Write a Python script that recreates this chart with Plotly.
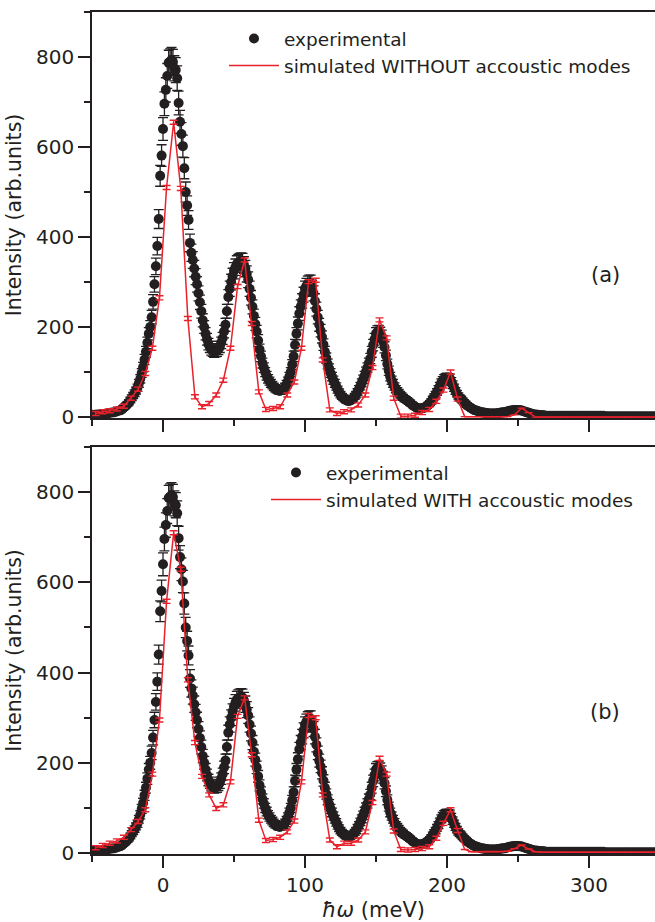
import plotly.graph_objects as go

# ---------------- data ----------------
# experimental energy grid (meV): 2 meV steps in the wings, 1 meV steps elsewhere
exp_energy = list(range(-50, -30, 2)) + list(range(-30, 271)) + list(range(272, 351, 2))
exp_intensity = [
    5, 5, 6, 6, 7, 8, 9, 10, 11, 13,
    15, 17, 20, 23, 26, 29, 33, 38, 43, 48,
    53, 59, 65, 75, 85, 98, 111, 128, 145, 165,
    185, 200, 222, 256, 295, 335, 380, 440, 536, 581,
    640, 696, 727, 758, 787, 790, 793, 789, 775, 771,
    753, 698, 656, 629, 602, 553, 500, 470, 438, 387,
    365, 349, 330, 312, 295, 275, 255, 235, 215, 200,
    185, 173, 162, 156, 150, 147, 145, 146, 147, 151,
    156, 165, 175, 190, 205, 235, 267, 285, 300, 313,
    325, 333, 340, 343, 345, 346, 345, 338, 330, 318,
    305, 285, 265, 245, 225, 207, 190, 170, 150, 135,
    120, 110, 100, 92, 85, 80, 75, 71, 67, 64,
    62, 60, 58, 59, 60, 63, 67, 73, 80, 90,
    100, 117, 135, 160, 185, 208, 230, 245, 258, 272,
    285, 291, 296, 298, 298, 287, 275, 258, 240, 222,
    205, 192, 178, 161, 145, 131, 118, 108, 98, 90,
    82, 75, 68, 61, 55, 50, 46, 43, 40, 38,
    36, 36, 37, 39, 42, 46, 50, 56, 62, 69,
    76, 84, 92, 101, 110, 120, 130, 145, 160, 173,
    185, 189, 190, 186, 180, 168, 155, 137, 118, 103,
    90, 82, 75, 68, 62, 58, 54, 50, 47, 44,
    41, 39, 37, 34, 32, 29, 26, 24, 22, 20,
    19, 19, 19, 20, 21, 23, 25, 28, 31, 35,
    40, 45, 50, 56, 62, 69, 76, 81, 85, 87,
    88, 87, 86, 79, 72, 65, 58, 52, 47, 43,
    40, 36, 33, 30, 27, 24, 22, 20, 18, 16,
    15, 14, 13, 12, 11, 10, 10, 9, 9, 8,
    8, 8, 8, 8, 8, 8, 9, 9, 10, 10,
    11, 11, 12, 13, 14, 14, 15, 15, 16, 16,
    16, 15, 15, 14, 13, 12, 11, 10, 9, 8,
    7, 6, 6, 5, 5, 4, 4, 4, 4, 3,
    3,
    3, 3, 3, 3, 3, 3, 3, 3, 3, 3,
    3, 3, 3, 3, 3, 3, 3, 3, 3, 3,
    2, 2, 2, 2, 2, 2, 2, 2, 2, 2,
    2, 2, 2, 2, 2, 2, 2, 2, 2, 2,
]
assert len(exp_energy) == len(exp_intensity)

# simulated energy grid (meV)
sim_energy = [e + 0.5 for e in range(-48, 348, 5)]
sim_without = [
    8, 12, 14, 18, 24, 42, 62, 97, 153, 265,
    510, 655, 508, 219, 45, 23, 30, 49, 82, 153,
    290, 349, 208, 56, 17, 19, 23, 49, 78, 153,
    301, 304, 127, 16, 8, 12, 16, 27, 49, 110,
    216, 176, 42, 2, 2, 4, 10, 17, 35, 60,
    100, 40, 1, 1, 1, 1, 1, 1, 1, 5,
    20, 10, 0, 0, 0, 0, 0, 0, 0, 0,
    0, 0, 0, 0, 0, 0, 0, 0, 0, 0,
]
sim_with = [
    12, 17, 22, 27, 35, 52, 70, 96, 175, 295,
    558, 710, 629, 384, 245, 170, 129, 99, 107, 158,
    303, 344, 218, 73, 28, 30, 35, 47, 71, 158,
    305, 300, 129, 29, 14, 22, 22, 29, 47, 112,
    210, 175, 49, 8, 7, 8, 10, 14, 33, 66,
    96, 50, 8, 3, 3, 3, 3, 3, 4, 10,
    18, 9, 3, 2, 2, 2, 2, 2, 2, 2,
    2, 2, 2, 2, 2, 2, 2, 2, 2, 2,
]
sim_err = [
    4.5, 4.5, 4.5, 4.5, 4.5, 4.5, 4.5, 4.5, 4.5, 4.5,
    4.5, 4.5, 4.5, 4.5, 4.5, 4.5, 4.5, 4.5, 4.5, 4.5,
    4.5, 4.5, 4.5, 4.5, 4.5, 4.5, 4.5, 4.5, 4.5, 4.5,
    4.5, 4.5, 4.5, 4.5, 4.5, 4.5, 4.5, 4.5, 4.5, 4.5,
    4.5, 4.5, 4.5, 4.5, 4.5, 4.5, 4.5, 4.5, 4.5, 4.5,
    4.5, 4.5, 0, 0, 0, 0, 0, 0, 0, 0,
    0, 0, 0, 0, 0, 0, 0, 0, 0, 0,
    0, 0, 0, 0, 0, 0, 0, 0, 0, 0,
]

legend_names = ["experimental", "simulated WITHOUT accoustic modes",
                "simulated WITH accoustic modes"]
panel_labels = ["(a)", "(b)"]
y_title = "Intensity (arb.units)"
x_title = "<i>ħω</i> (meV)"

# ---------------- style ----------------
FONT = "DejaVu Sans"
INK = "#231f20"
RED = "#e8212b"

fig = go.Figure()

def add_panel(sim_vals, sim_name, xa, ya, legend):
    fig.add_trace(go.Scatter(
        x=exp_energy, y=exp_intensity, mode="markers", name=legend_names[0],
        xaxis=xa, yaxis=ya, legend=legend,
        marker=dict(size=10, color=INK, line=dict(width=0)),
        error_y=dict(type="sqrt", color=INK, thickness=1.3, width=5),
    ))
    fig.add_trace(go.Scatter(
        x=sim_energy, y=sim_vals, mode="lines", name=sim_name,
        xaxis=xa, yaxis=ya, legend=legend,
        line=dict(color=RED, width=1.5),
        error_y=dict(type="data", array=sim_err, color=RED, thickness=1.4, width=4),
    ))

add_panel(sim_without, legend_names[1], "x", "y", "legend")
add_panel(sim_with, legend_names[2], "x2", "y2", "legend2")

axis_common = dict(
    showline=True, linecolor=INK, linewidth=1.6,
    ticks="outside", tickcolor=INK, tickwidth=1.5, ticklen=12,
    showgrid=False, zeroline=False,
    tickfont=dict(family=FONT, size=20, color=INK),
)
xcommon = dict(axis_common, range=[-50, 346.5], tick0=0, dtick=100, mirror=True,
               minor=dict(dtick=50, tick0=0, ticks="outside", ticklen=6,
                          tickwidth=1.5, tickcolor=INK, showgrid=False))
ycommon = dict(axis_common, range=[-2, 900], tick0=0, dtick=200,
               minor=dict(dtick=100, tick0=0, ticks="outside", ticklen=6,
                          tickwidth=1.5, tickcolor=INK, showgrid=False),
               title=dict(text=y_title, font=dict(family=FONT, size=20.5, color=INK),
                          standoff=9))

top_lo = (854 - 418) / 842
bot_hi = (854 - 447) / 842

label_font = dict(family=FONT, size=21, color=INK)

fig.update_layout(
    width=655, height=922,
    margin=dict(l=92, r=0, t=12, b=68),
    paper_bgcolor="white", plot_bgcolor="white",
    font=dict(family=FONT, color=INK),
    xaxis=dict(xcommon, anchor="y", showticklabels=False),
    yaxis=dict(ycommon, anchor="x", domain=[top_lo, 1]),
    xaxis2=dict(xcommon, anchor="y2",
                title=dict(text=x_title, font=dict(family=FONT, size=21, color=INK),
                           standoff=8)),
    yaxis2=dict(ycommon, anchor="x2", domain=[0, bot_hi]),
    legend=dict(x=(224 - 92) / 563, y=(854 - 20) / 842, xanchor="left", yanchor="top",
                bgcolor="rgba(0,0,0,0)", itemwidth=50,
                font=dict(family=FONT, size=18.5, color=INK)),
    legend2=dict(x=(266 - 92) / 563, y=(854 - 454) / 842, xanchor="left", yanchor="top",
                 bgcolor="rgba(0,0,0,0)", itemwidth=50,
                 font=dict(family=FONT, size=18.5, color=INK)),
    annotations=[
        dict(text=panel_labels[0], x=(605 - 92) / 563, y=(854 - 275) / 842,
             xref="paper", yref="paper", xanchor="center", yanchor="middle",
             showarrow=False, font=label_font),
        dict(text=panel_labels[1], x=(605 - 92) / 563, y=(854 - 712) / 842,
             xref="paper", yref="paper", xanchor="center", yanchor="middle",
             showarrow=False, font=label_font),
    ],
)

fig.write_html("out.html")
